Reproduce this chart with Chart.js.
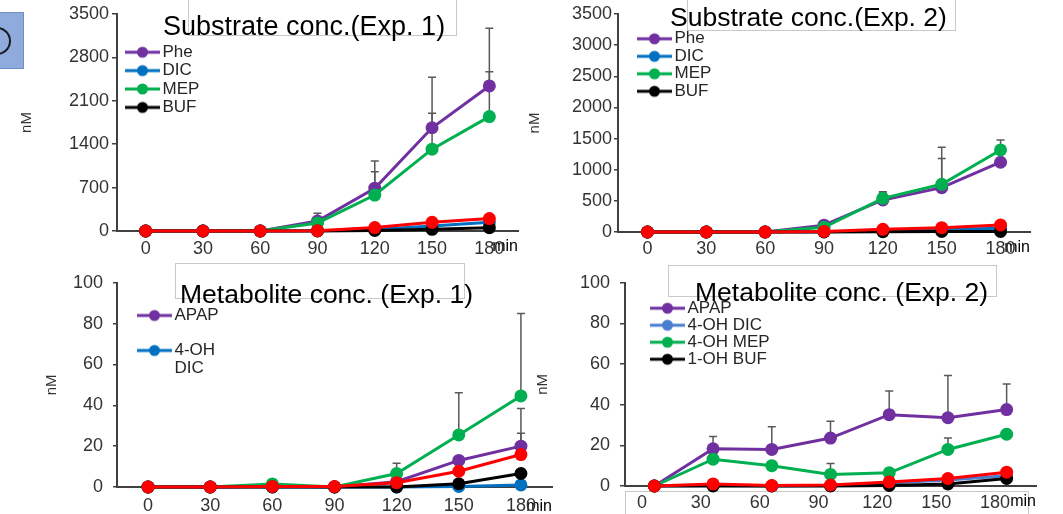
<!DOCTYPE html>
<html>
<head>
<meta charset="utf-8">
<script src="https://cdn.jsdelivr.net/npm/chart.js@4.4.1/dist/chart.umd.min.js"></script>
<style>
  html, body { margin: 0; padding: 0; background: #fff; }
  #page { position: relative; width: 1063px; height: 514px; overflow: hidden; font-family: "Liberation Sans", Arial, sans-serif; }
  canvas { position: absolute; }
  .box { position: absolute; background: #fff; border: 1px solid #c8c8c8; }
  .ttl { position: absolute; white-space: nowrap; line-height: 1; color: #000; }
  #tag { position: absolute; left: -2px; top: 12px; width: 24px; height: 55px; background: #8faadc; border: 1px solid #6f8fcc; overflow: hidden; }
  #tag div { position: absolute; left: -16px; top: 14px; width: 24px; height: 24px; border: 2px solid #1a1a1a; border-radius: 50%; }
</style>
</head>
<body>
<div id="page">
  <div id="tag"><div></div></div>
  <div class="box" style="left:625px;top:491px;width:402px;height:40px"></div>

  <canvas id="c1"></canvas>
  <canvas id="c2"></canvas>
  <canvas id="c3"></canvas>
  <canvas id="c4"></canvas>

  <div class="box" style="left:188px;top:-2px;width:267px;height:36px"></div>
  <div class="ttl" style="left:163px;top:13px;font-size:27px">Substrate conc.(Exp. 1)</div>
  <div class="box" style="left:687px;top:-2px;width:267px;height:31px"></div>
  <div class="ttl" style="left:670px;top:4px;font-size:26.5px">Substrate conc.(Exp. 2)</div>
  <div class="box" style="left:175px;top:263px;width:288px;height:34px"></div>
  <div class="ttl" style="left:180px;top:281px;font-size:26.5px">Metabolite conc. (Exp. 1)</div>
  <div class="box" style="left:668px;top:265px;width:327px;height:30px"></div>
  <div class="ttl" style="left:695px;top:279px;font-size:26.5px">Metabolite conc. (Exp. 2)</div>
</div>
<script>
Chart.defaults.font.family = '"Liberation Sans", Arial, sans-serif';
Chart.defaults.color = '#333';

// sampling times (min)
const minutes = ['0', '30', '60', '90', '120', '150', '180'];
const xTickValues = [0, 30, 60, 90, 120, 150, 180];

// Substrate conc. (Exp. 1), nM
const sub1Phe = [0, 0, 0, 160, 690, 1665, 2340];
const sub1Dic = [0, 0, 0, 5, 25, 80, 140];
const sub1Mep = [0, 0, 0, 130, 580, 1320, 1845];
const sub1Buf = [0, 0, 0, 0, 10, 27, 53];
const sub1Red = [0, 0, 0, 5, 55, 140, 200];
const sub1PheErr = [0, 0, 0, 125, 440, 815, 930];
const sub1MepErr = [0, 0, 0, 0, 375, 580, 725];

// Substrate conc. (Exp. 2), nM
const sub2Phe = [0, 0, 0, 110, 515, 712, 1120];
const sub2Dic = [0, 0, 0, 5, 20, 40, 60];
const sub2Mep = [0, 0, 0, 75, 540, 766, 1317];
const sub2Buf = [0, 0, 0, 0, 5, 8, 10];
const sub2Red = [0, 0, 0, 10, 43, 69, 112];
const sub2PheErr = [0, 0, 0, 0, 110, 470, 0];
const sub2MepErr = [0, 0, 0, 0, 106, 594, 160];

// Metabolite conc. (Exp. 1), nM
const met1Apap = [0, 0, 0.5, 0, 2.6, 13, 20];
const met1Dic = [0, 0, 0, 0, 0, 0.3, 1];
const met1Mep = [0, 0, 1.5, 0, 6.6, 25.5, 44.6];
const met1Buf = [0, 0, 0, 0, 0, 1.6, 6.6];
const met1Red = [0, 0, 0.3, 0.2, 2.1, 7.7, 15.9];
const met1ApapErr = [0, 0, 0, 0, 0, 0, 18.4];
const met1MepErr = [0, 0, 0, 0, 5, 20.7, 40.4];
const met1RedErr = [0, 0, 0, 0, 0, 0, 10.4];

// Metabolite conc. (Exp. 2), nM
const met2Apap = [0, 18.3, 18, 23.6, 35.1, 33.6, 37.6];
const met2Dic = [0, 0.3, 0, 0.2, 1.5, 3, 5];
const met2Mep = [0, 13.2, 10, 5.7, 6.5, 18, 25.5];
const met2Buf = [0, 0, 0, 0, 0.3, 1, 3.7];
const met2Red = [0, 1, 0.2, 0.5, 2, 3.7, 6.8];
const met2ApapErr = [0, 6.1, 11.2, 8.3, 11.6, 20.8, 12.6];
const met2MepErr = [0, 0, 0, 5.4, 0, 5.6, 0];

const PURPLE = '#7030a0', BLUE = '#0070c0', LBLUE = '#4a7fd0', GREEN = '#00b050', BLACK = '#000000', RED = '#ff0000';
const AXIS = '#404040';

// upper error bars, drawn under the lines
const errorBars = {
  id: 'errorBars',
  beforeDatasetsDraw(chart) {
    const {ctx, scales: {x, y}} = chart;
    ctx.save();
    ctx.strokeStyle = '#595959';
    ctx.lineWidth = 1.5;
    chart.data.datasets.forEach(ds => {
      if (!ds.errUp) return;
      ds.errUp.forEach((e, j) => {
        if (!e) return;
        const px = x.getPixelForValue(j);
        const y0 = y.getPixelForValue(ds.data[j]);
        const y1 = y.getPixelForValue(ds.data[j] + e);
        ctx.beginPath();
        ctx.moveTo(px, y0); ctx.lineTo(px, y1);
        ctx.moveTo(px - 4, y1); ctx.lineTo(px + 4, y1);
        ctx.stroke();
      });
    });
    ctx.restore();
  }
};

// put the legend where the picture has it (inside the plot)
const legendSpot = {
  id: 'legendSpot',
  afterLayout(chart, args, opts) {
    const lg = chart.legend;
    if (!lg || !opts || opts.x === undefined) return;
    const p = lg.options.labels.padding;
    const w = lg.width;
    lg.left = opts.x - p;
    lg.right = lg.left + w;
    lg.top = opts.y - 8 - p;
    lg.bottom = chart.height;
  }
};

function legendIcon(color) {
  const c = document.createElement('canvas');
  c.width = 41; c.height = 14;
  const g = c.getContext('2d');
  g.strokeStyle = color; g.lineWidth = 3;
  g.beginPath(); g.moveTo(6, 7); g.lineTo(41, 7); g.stroke();
  g.fillStyle = color;
  g.beginPath(); g.arc(23.5, 7, 5.5, 0, Math.PI * 2); g.fill();
  return c;
}

function line(label, data, color, order, errUp) {
  return {
    label, data, errUp, order,
    borderColor: color, backgroundColor: color,
    pointBackgroundColor: color, pointBorderColor: color,
    borderWidth: 3, pointRadius: 6.5, pointHoverRadius: 6.5, pointBorderWidth: 0,
    tension: 0, clip: false
  };
}

function panel(id, p) {
  const [cx, cy, cw, ch] = p.box;
  const cv = document.getElementById(id);
  cv.style.left = cx + 'px';
  cv.style.top = cy + 'px';
  cv.width = cw; cv.height = ch;
  const yW = p.area.l - cx;
  const xH = cy + ch - p.area.b;
  const minTitle = {display: true, text: 'min', align: 'end', color: '#000', font: {size: 16}, padding: {top: 0, bottom: p.minPad}};

  const scales = {
    x: {
      type: 'category', labels: minutes, offset: true, weight: 0,
      grid: {display: false, drawTicks: false},
      border: {color: AXIS, width: 2},
      ticks: {display: !p.x2, padding: p.xPad, color: '#333', font: {size: 18}, maxRotation: 0, autoSkip: false},
      title: p.x2 ? {display: false} : minTitle,
      afterFit: s => { s.height = p.x2 ? 0 : xH; }
    },
    y: {
      min: 0, max: p.yMax,
      ticks: {stepSize: p.yStep, padding: p.yPad, color: '#333', font: {size: 18}, callback: v => String(v)},
      grid: {drawOnChartArea: false, drawTicks: true, tickLength: p.tick, color: AXIS, lineWidth: 1.5},
      border: {color: AXIS, width: 2},
      title: {display: true, text: 'nM', color: '#333', font: {size: 15}, padding: {top: p.nmX - cx - 9, bottom: 0}},
      afterFit: s => { s.width = yW; }
    }
  };
  if (p.x2) {
    scales.x2 = {
      type: 'linear', position: 'bottom', min: p.x2[0], max: p.x2[1], weight: 1,
      grid: {display: false, drawTicks: false},
      border: {display: false},
      ticks: {padding: p.xPad, color: '#333', font: {size: 18}, callback: v => String(v)},
      afterBuildTicks: s => { s.ticks = xTickValues.map(v => ({value: v})); },
      title: minTitle,
      afterFit: s => { s.height = xH; }
    };
  }

  return new Chart(cv, {
    type: 'line',
    data: {labels: minutes, datasets: p.datasets},
    plugins: [errorBars, legendSpot],
    options: {
      responsive: false,
      animation: false,
      devicePixelRatio: 1,
      layout: {padding: {left: 0, top: p.area.t - cy, right: cx + cw - p.area.r, bottom: 0}},
      scales,
      plugins: {
        tooltip: {enabled: false},
        legend: {
          position: 'chartArea', align: 'start',
          labels: {
            usePointStyle: true, pointStyleWidth: 29, padding: p.legPad,
            font: {size: 17, lineHeight: 1.05}, color: '#262626',
            generateLabels: chart => p.legend.map((t, i) => ({
              text: t, pointStyle: legendIcon(chart.data.datasets[i].borderColor),
              fontColor: '#262626', datasetIndex: i, lineWidth: 0, hidden: false,
              strokeStyle: 'transparent', fillStyle: 'transparent'
            }))
          }
        },
        legendSpot: {x: p.leg[0] - cx, y: p.leg[1] - cy}
      }
    }
  });
}

panel('c1', {
  box: [0, 0, 530, 262], area: {l: 117, t: 14, r: 518, b: 231},
  yMax: 3500, yStep: 700, yPad: 3, tick: 5, nmX: 27, xPad: 7, minPad: 5.4,
  leg: [125, 51.7], legPad: 1.4, legend: ['Phe', 'DIC', 'MEP', 'BUF'],
  datasets: [
    line('Phe', sub1Phe, PURPLE, 4, sub1PheErr),
    line('DIC', sub1Dic, BLUE, 3),
    line('MEP', sub1Mep, GREEN, 2, sub1MepErr),
    line('BUF', sub1Buf, BLACK, 1),
    line('', sub1Red, RED, 0)
  ]
});

panel('c2', {
  box: [520, 0, 543, 262], area: {l: 618, t: 14, r: 1030, b: 232},
  yMax: 3500, yStep: 500, yPad: 2, tick: 4, nmX: 535, xPad: 6, minPad: 4.4,
  leg: [637, 38.3], legPad: 0.5, legend: ['Phe', 'DIC', 'MEP', 'BUF'],
  datasets: [
    line('Phe', sub2Phe, PURPLE, 4, sub2PheErr),
    line('DIC', sub2Dic, BLUE, 3),
    line('MEP', sub2Mep, GREEN, 2, sub2MepErr),
    line('BUF', sub2Buf, BLACK, 1),
    line('', sub2Red, RED, 0)
  ]
});

panel('c3', {
  box: [0, 262, 580, 262], area: {l: 117, t: 279, r: 552, b: 487},
  yMax: 100, yStep: 20, yPad: 10, tick: 4, nmX: 52, xPad: 8, minPad: 7.4,
  leg: [137, 315], legPad: 18, legend: ['APAP', ['4-OH', 'DIC']],
  datasets: [
    line('APAP', met1Apap, PURPLE, 4, met1ApapErr),
    line('4-OH DIC', met1Dic, BLUE, 3),
    line('4-OH MEP', met1Mep, GREEN, 2, met1MepErr),
    line('1-OH BUF', met1Buf, BLACK, 1),
    line('', met1Red, RED, 0, met1RedErr)
  ]
});

panel('c4', {
  box: [530, 262, 533, 262], area: {l: 625, t: 277, r: 1036, b: 486},
  yMax: 100, yStep: 20, yPad: 10, tick: 5, nmX: 543, xPad: 6, minPad: 12.4,
  x2: [-8.67, 200.9],
  leg: [650, 307.7], legPad: 0, legend: ['APAP', '4-OH DIC', '4-OH MEP', '1-OH BUF'],
  datasets: [
    line('APAP', met2Apap, PURPLE, 4, met2ApapErr),
    line('4-OH DIC', met2Dic, LBLUE, 3),
    line('4-OH MEP', met2Mep, GREEN, 2, met2MepErr),
    line('1-OH BUF', met2Buf, BLACK, 1),
    line('', met2Red, RED, 0)
  ]
});
</script>
</body>
</html>
